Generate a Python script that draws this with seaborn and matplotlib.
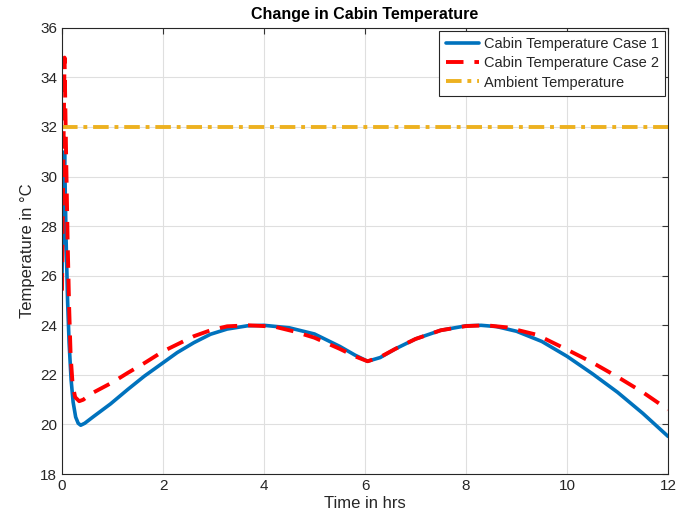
import matplotlib
matplotlib.use("Agg")
import matplotlib.pyplot as plt
import seaborn as sns
import pandas as pd

case1_x = [0, 0.02, 0.05, 0.08, 0.11, 0.14, 0.18, 0.22, 0.27, 0.32, 0.37, 0.45, 0.63, 0.96,
           1.3, 1.63, 2.0, 2.28, 2.61, 2.94, 3.27, 3.67, 4.0, 4.5, 5.0, 5.5, 5.8, 6.05, 6.3, 6.6, 7.0,
           7.5, 8.0, 8.3, 8.6, 9.0, 9.5, 10.0, 10.5, 11.0, 11.5, 12.0]
case1_y = [25.97, 28.5, 31.0, 27.5, 25.0, 23.3, 21.8, 20.9, 20.3, 20.05, 19.97, 20.05, 20.33, 20.83,
           21.41, 21.95, 22.49, 22.9, 23.3, 23.64, 23.85, 23.98, 24.0, 23.9, 23.65, 23.15, 22.8, 22.55, 22.7, 23.05, 23.45,
           23.8, 23.98, 24.0, 23.95, 23.76, 23.35, 22.75, 22.05, 21.3, 20.45, 19.52]

case2_x = [0, 0.02, 0.05, 0.08, 0.11, 0.14, 0.17, 0.21, 0.26, 0.34, 0.42, 0.5, 0.63, 1.0,
           1.3, 1.65, 2.0, 2.3, 2.61, 2.94, 3.27, 3.7, 4.2, 4.6, 5.0, 5.5, 5.8, 6.05, 6.3, 6.6, 7.0,
           7.5, 8.0, 8.4, 8.8, 9.4, 10.0, 10.5, 11.0, 11.5, 12.0]
case2_y = [25.4, 29.5, 34.8, 31.0, 27.5, 24.8, 22.8, 21.6, 21.1, 20.94, 21.0, 21.12, 21.3, 21.7,
           22.08, 22.5, 22.95, 23.25, 23.56, 23.8, 23.96, 24.0, 23.95, 23.75, 23.5, 23.05, 22.75, 22.55, 22.72, 23.05, 23.45,
           23.8, 23.97, 24.0, 23.92, 23.62, 23.02, 22.5, 21.92, 21.3, 20.6]

ambient_x = [0, 12]
ambient_y = [32, 32]

labels = ["Cabin Temperature Case 1", "Cabin Temperature Case 2", "Ambient Temperature"]

sns.set_style("whitegrid")
plt.rcParams['font.family'] = ['Liberation Sans', 'DejaVu Sans']

fig = plt.figure(figsize=(6.93, 5.25), dpi=100)
ax = fig.add_axes([0.0895, 0.097, 0.8745, 0.85])

df1 = pd.DataFrame({"x": case1_x, "y": case1_y})
df2 = pd.DataFrame({"x": case2_x, "y": case2_y})
df3 = pd.DataFrame({"x": ambient_x, "y": ambient_y})

sns.lineplot(data=df1, x="x", y="y", ax=ax, color="#0072BD", lw=2.6, label=labels[0], sort=False)
sns.lineplot(data=df2, x="x", y="y", ax=ax, color="#FF0000", lw=2.8, label=labels[1], sort=False,
             linestyle=(0, (4.5, 2.8)))
sns.lineplot(data=df3, x="x", y="y", ax=ax, color="#EDB120", lw=2.8, label=labels[2], sort=False,
             linestyle=(0, (4.0, 1.5, 1.0, 1.5)))

ax.set_xlim(0, 12)
ax.set_ylim(18, 36)
ax.set_xticks(range(0, 13, 2))
ax.set_yticks(range(18, 37, 2))
ax.tick_params(axis="both", labelsize=11, direction="in", length=4, color="#333333",
               top=True, right=True, labelcolor="#262626")
ax.grid(True, color="#DFDFDF", lw=0.8)
for s in ax.spines.values():
    s.set_color("#262626")
    s.set_linewidth(0.8)
ax.set_facecolor("white")

ax.set_xlabel("Time in hrs", fontsize=12, color="#262626", labelpad=2)
ax.set_ylabel("Temperature in °C", fontsize=12, color="#262626", labelpad=4)
ax.set_title("Change in Cabin Temperature", fontsize=11.5, fontweight="bold", color="black", pad=6)

leg = ax.legend(loc="upper right", fontsize=10.5, frameon=True, fancybox=False,
                edgecolor="#262626", framealpha=1, borderaxespad=0.2,
                handlelength=2.3, handletextpad=0.3, labelspacing=0.35, borderpad=0.45)
leg.get_frame().set_linewidth(0.8)

fig.savefig("out.png", dpi=100)
